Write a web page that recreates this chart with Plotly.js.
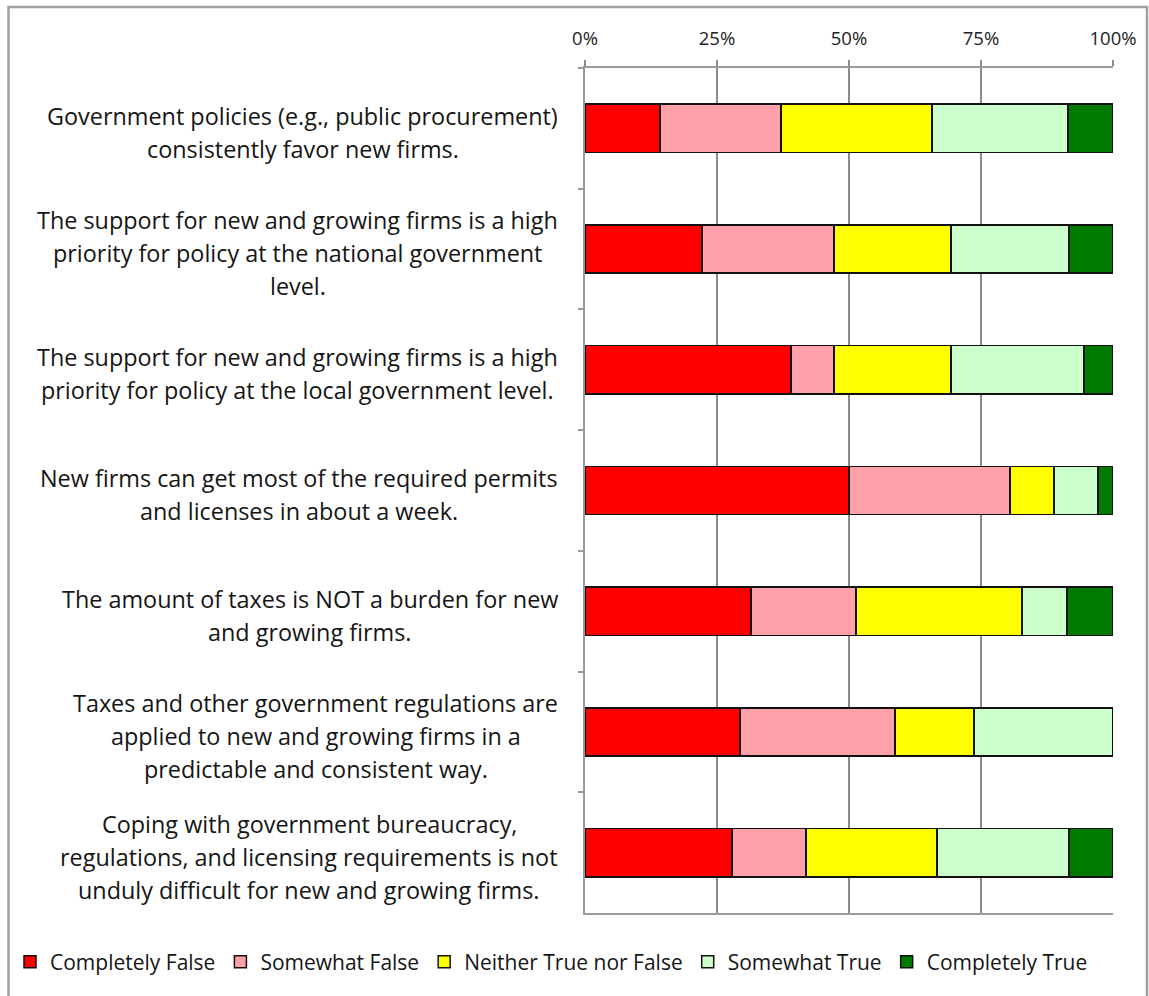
<!DOCTYPE html>
<html>
<head>
<meta charset="utf-8">
<script src="https://cdn.plot.ly/plotly-3.0.1.min.js"></script>
<style>html,body{margin:0;padding:0;background:#fff;}#chart{width:1149px;height:996px;}</style>
</head>
<body>
<div id="chart"></div>
<script>
// Statement categories (top to bottom), each split into its display lines
var categoryLines = [
  ["Government policies (e.g., public procurement)", "consistently favor new firms."],
  ["The support for new and growing firms is a high", "priority for policy at the national government", "level."],
  ["The support for new and growing firms is a high", "priority for policy at the local government level."],
  ["New firms can get most of the required permits", "and licenses in about a week."],
  ["The amount of taxes is NOT a burden for new", "and growing firms."],
  ["Taxes and other government regulations are", "applied to new and growing firms in a", "predictable and consistent way."],
  ["Coping with government bureaucracy,", "regulations, and licensing requirements is not", "unduly difficult for new and growing firms."]
];
var categories = categoryLines.map(function(l){ return l.join(" "); });

var seriesNames = ["Completely False", "Somewhat False", "Neither True nor False", "Somewhat True", "Completely True"];

// Percent of responses, per category (same order as categories)
var completelyFalse   = [14.2, 22.2, 39.0, 50.0, 31.4, 29.4, 27.8];
var somewhatFalse     = [22.9, 25.0,  8.2, 30.5, 19.9, 29.3, 14.1];
var neitherTrueFalse  = [28.6, 22.1, 22.1,  8.3, 31.5, 15.0, 24.8];
var somewhatTrue      = [25.8, 22.4, 25.2,  8.4,  8.5, 26.3, 25.0];
var completelyTrue    = [ 8.5,  8.3,  5.5,  2.8,  8.7,  0.0,  8.3];

var tickValues = [0, 25, 50, 75, 100];

var seriesValues = [completelyFalse, somewhatFalse, neitherTrueFalse, somewhatTrue, completelyTrue];
var seriesColors = ["#FF0000", "#FFA0AA", "#FFFF00", "#CCFFCC", "#007A00"];

var FONT = "'Open Sans', sans-serif";
var LABEL_SIZE = 23.4;

var traces = seriesValues.map(function(vals, i){
  return {
    type: "bar",
    orientation: "h",
    name: seriesNames[i],
    y: categories,
    x: vals,
    marker: {color: seriesColors[i], line: {color: "#111", width: 1.5}},
    hoverinfo: "name+x"
  };
});

var L = 585, R = 36, T = 68, B = 83, W = 1149, H = 996;
var pw = W - L - R, ph = H - T - B;
var LABEL_RIGHT = 558;

// measure text to center each label block, right-aligned at LABEL_RIGHT
var cv = document.createElement("canvas").getContext("2d");
cv.font = LABEL_SIZE + "px 'Open Sans'";
function tw(s){ return cv.measureText(s).width; }

var annotations = [];
categoryLines.forEach(function(lines, ci){
  var n = lines.length;
  var maxW = Math.max.apply(null, lines.map(tw));
  var cx = (LABEL_RIGHT - maxW / 2 - L) / pw;
  lines.forEach(function(txt, li){
    annotations.push({
      xref: "paper", yref: "y",
      x: cx, y: categories[ci],
      xanchor: "center", yanchor: "middle",
      yshift: -((li - (n - 1) / 2) * 33) - 4,
      text: txt,
      showarrow: false,
      align: "center",
      font: {family: FONT, size: LABEL_SIZE, color: "#151515"}
    });
  });
});

var layout = {
  width: W, height: H,
  margin: {l: L, r: R, t: T, b: B, pad: 0, autoexpand: false},
  paper_bgcolor: "#fff",
  plot_bgcolor: "#fff",
  barmode: "stack",
  bargap: 0.6,
  showlegend: true,
  legend: {
    orientation: "h",
    xref: "paper", yref: "paper",
    x: (10 - L) / pw, xanchor: "left",
    y: 1 - (962 - T) / ph, yanchor: "middle",
    font: {family: FONT, size: 21, color: "#151515"},
    bgcolor: "rgba(0,0,0,0)",
    traceorder: "normal",
    itemwidth: 30,
    tracegroupgap: 0
  },
  xaxis: {
    side: "top",
    range: [0, 100],
    tickvals: tickValues,
    ticktext: tickValues.map(function(v){ return v + "%"; }),
    showgrid: true, gridcolor: "#8a8a8a", gridwidth: 1.5,
    zeroline: false,
    showline: true, linecolor: "#9a9a9a", linewidth: 2, mirror: true,
    ticks: "outside", ticklen: 6, tickcolor: "#8a8a8a", tickwidth: 1.5,
    ticklabelstandoff: 8,
    tickfont: {family: FONT, size: 18.5, color: "#222"},
    fixedrange: true
  },
  yaxis: {
    type: "category",
    autorange: "reversed",
    showticklabels: false,
    tickson: "boundaries",
    ticks: "outside", ticklen: 5, tickcolor: "#9a9a9a", tickwidth: 2,
    showgrid: false,
    showline: true, linecolor: "#9a9a9a", linewidth: 2,
    zeroline: false,
    fixedrange: true
  },
  annotations: annotations,
  shapes: [{
    type: "rect", xref: "paper", yref: "paper",
    x0: (8.5 - L) / pw, x1: (1147 - L) / pw,
    y0: 1 - (1002 - T) / ph, y1: 1 - (7 - T) / ph,
    line: {color: "#a0a0a0", width: 2.5},
    fillcolor: "rgba(0,0,0,0)",
    layer: "below"
  }],
  font: {family: FONT}
};

Plotly.newPlot("chart", traces, layout, {displayModeBar: false, staticPlot: true});
</script>
</body>
</html>
